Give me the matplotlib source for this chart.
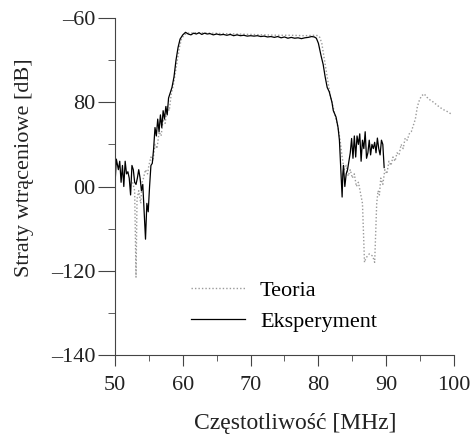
import matplotlib
matplotlib.use("Agg")
import matplotlib.pyplot as plt
import numpy as np

# --- dane ---
f_exp = [50.0, 50.2, 50.5, 50.7, 50.9, 51.1, 51.3, 51.5, 51.7, 51.9, 52.1, 52.3,
         52.5, 52.7, 52.9, 53.1, 53.3, 53.5, 53.7, 53.9, 54.1, 54.3, 54.5, 54.7,
         54.9, 55.1, 55.3, 55.5, 55.7, 55.9, 56.1, 56.3, 56.5, 56.7, 56.9, 57.1,
         57.3, 57.5, 57.7, 57.9, 58.1, 58.4, 58.7, 59.0, 59.3, 59.6, 60.0, 60.4,
         60.8, 61.2, 61.6, 62.0, 62.4, 62.8, 63.2, 63.6, 64.0, 64.5, 65.0, 65.5,
         66.0, 66.5, 67.0, 67.5, 68.0, 68.5, 69.0, 69.5, 70.0, 70.5, 71.0, 71.5,
         72.0, 72.5, 73.0, 73.5, 74.0, 74.5, 75.0, 75.5, 76.0, 76.5, 77.0, 77.5,
         78.0, 78.5, 79.0, 79.4, 79.7, 80.0, 80.4, 80.7, 81.0, 81.3, 81.6, 82.0,
         82.2, 82.6, 82.9, 83.1, 83.3, 83.5, 83.6, 83.7, 83.9, 84.1, 84.3, 84.5,
         84.7, 84.9, 85.1, 85.3, 85.5, 85.7, 85.9, 86.1, 86.3, 86.5, 86.7, 86.9,
         87.1, 87.3, 87.5, 87.7, 87.9, 88.1, 88.3, 88.5, 88.7, 88.9, 89.1, 89.3,
         89.5, 89.7]
s_exp = [-99.5, -93.5, -96.0, -94.0, -99.0, -95.0, -100.0, -94.0, -97.0, -96.5, -98.0, -102.0,
         -95.0, -96.0, -99.0, -99.5, -98.0, -96.0, -98.0, -101.0, -99.5, -106.0, -112.5, -104.0,
         -106.0, -100.0, -95.0, -94.5, -91.0, -86.0, -88.0, -84.0, -87.0, -83.0, -86.0, -82.0,
         -84.0, -81.0, -83.0, -79.0, -78.0, -76.5, -74.0, -70.0, -67.0, -65.0, -64.0, -63.4,
         -63.8, -64.0, -63.6, -63.8, -63.5, -63.9, -63.6, -63.8, -63.7, -64.0, -63.8, -64.0,
         -63.9, -64.1, -63.9, -64.2, -64.0, -64.2, -64.1, -64.3, -64.2, -64.3, -64.2, -64.4,
         -64.3, -64.5, -64.4, -64.6, -64.4, -64.7, -64.5, -64.8, -64.6, -64.8, -64.7, -64.9,
         -64.7, -64.6, -64.4, -64.5, -64.8, -66.0, -69.0, -71.0, -74.0, -76.5, -77.5, -80.0,
         -82.0, -83.5, -86.0, -89.0, -96.0, -102.5, -97.0, -95.0, -100.0, -97.0, -96.0, -94.0,
         -92.0, -88.6, -93.3, -88.0, -93.0, -88.0, -90.0, -87.5, -94.0, -89.0, -91.0, -87.0,
         -93.3, -92.0, -89.0, -92.5, -90.0, -91.0, -89.5, -92.0, -88.5, -91.0, -92.5, -89.0,
         -90.0, -95.5]

f_teo = [52.6, 52.9, 53.1, 53.25, 53.5, 53.8, 54.0, 54.2, 54.5, 54.8, 55.0, 55.3,
         55.6, 55.9, 56.2, 56.5, 56.8, 57.1, 57.4, 57.7, 58.0, 58.3, 58.6, 58.9,
         59.2, 59.5, 59.8, 60.2, 60.6, 62.0, 64.0, 66.0, 68.0, 70.0, 72.0, 74.0,
         76.0, 78.0, 79.5, 80.0, 80.2, 80.5, 80.8, 81.1, 81.4, 81.7, 82.0, 82.3,
         82.6, 82.9, 83.2, 83.5, 83.8, 84.1, 84.4, 84.7, 85.0, 85.3, 85.6, 85.9,
         86.2, 86.5, 86.8, 87.0, 87.5, 88.0, 88.3, 88.6, 88.8, 89.0, 89.2, 89.5,
         89.8, 90.1, 90.4, 90.7, 91.0, 91.3, 91.6, 91.9, 92.2, 92.5, 92.8, 93.1,
         93.4, 93.7, 94.0, 94.3, 94.6, 94.9, 95.2, 95.6, 96.0, 96.5, 97.0, 97.5,
         98.0, 98.5, 99.0, 99.6]
s_teo = [-99.0, -101.0, -121.5, -103.0, -101.0, -104.0, -99.0, -98.0, -96.0, -97.0, -95.0, -93.0,
         -94.0, -90.0, -91.0, -87.0, -88.0, -84.0, -85.0, -81.0, -82.0, -78.0, -76.0, -73.0,
         -70.0, -67.0, -65.0, -64.0, -63.6, -63.5, -63.6, -63.7, -63.8, -63.9, -64.0, -64.1,
         -64.1, -64.2, -64.1, -64.2, -64.6, -66.0, -69.0, -72.0, -75.0, -78.0, -80.0, -82.0,
         -84.0, -86.0, -89.0, -93.0, -96.0, -95.0, -97.5, -96.0, -98.0, -97.0, -100.0, -99.0,
         -101.5, -104.0, -118.0, -117.0, -116.0, -116.5, -118.0, -104.0, -101.0, -102.0, -98.0, -99.5,
         -96.0, -97.0, -94.0, -95.0, -93.0, -94.0, -92.0, -92.5, -90.0, -91.0, -88.5, -89.0,
         -87.5, -87.0, -85.5, -84.0, -81.0, -79.5, -78.5, -78.0, -78.8, -79.5, -80.0, -80.7,
         -81.3, -81.8, -82.2, -82.8]

x_ticks = [50, 60, 70, 80, 90, 100]
y_ticks = [-140, -120, -100, -80, -60]
y_tick_labels = ["\u2013140", "\u2013120", "00", "80", "\u201360"]

plt.rcParams["font.family"] = ["Liberation Serif", "DejaVu Serif"]

fig = plt.figure(figsize=(4.74, 4.37), dpi=100)
ax = fig.add_axes([0.2426, 0.1876, 0.7152, 0.7712])

ax.plot(f_teo, s_teo, color="#9a9a9a", lw=1.0, ls=(0, (1, 1.5)), label="Teoria")
ax.plot(f_exp, s_exp, color="black", lw=0.9, label="Eksperyment")

ax.set_xlim(50, 100)
ax.set_ylim(-140, -60)
ax.set_xticks(x_ticks)
ax.set_xticks(np.arange(55, 100, 10), minor=True)
ax.set_yticks(y_ticks)
ax.set_yticklabels(y_tick_labels)
ax.set_yticks(np.arange(-130, -60, 20), minor=True)

for sp in ("top", "right"):
    ax.spines[sp].set_visible(False)
for sp in ("left", "bottom"):
    ax.spines[sp].set_color("#444444")
ax.tick_params(axis="both", which="major", labelsize=16, colors="#444444",
               labelcolor="#222222")
ax.tick_params(axis="y", which="major", length=12, direction="out", pad=2)
ax.tick_params(axis="y", which="minor", length=5, direction="out", colors="#444444")
ax.tick_params(axis="x", which="major", length=8, direction="out", pad=7)
ax.tick_params(axis="x", which="minor", length=4, direction="out", colors="#444444")

ax.set_xlabel("Częstotliwość [MHz]", fontsize=17, color="#222222")
ax.xaxis.set_label_coords(0.531, -0.172)
ax.set_ylabel("Straty wtrąceniowe [dB]", fontsize=16, color="#222222")
ax.yaxis.set_label_coords(-0.24, 0.555)

ax.legend(loc="upper left", bbox_to_anchor=(191 / 474, 1 - 280 / 437),
          bbox_transform=fig.transFigure, frameon=False, borderpad=0,
          borderaxespad=0, fontsize=16, handlelength=2.45, handletextpad=0.65,
          labelspacing=0.5)

fig.savefig("out.png", dpi=100)
